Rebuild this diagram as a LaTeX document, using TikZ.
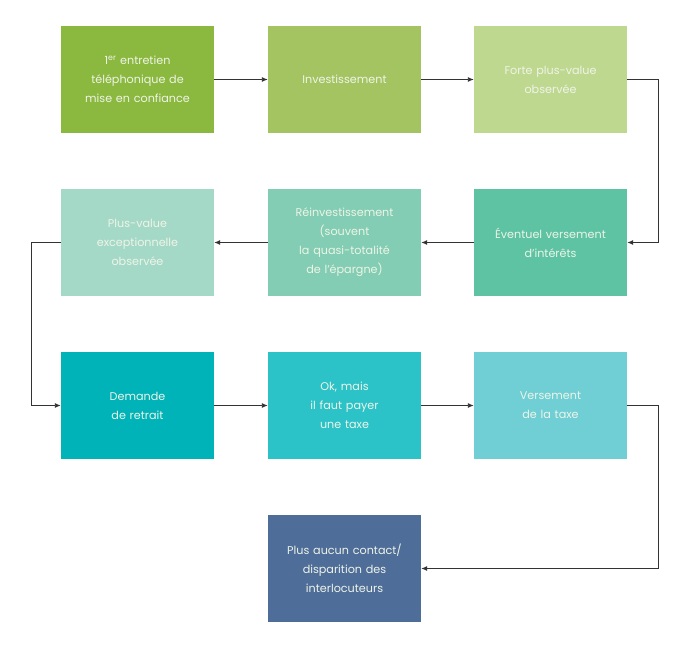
\documentclass[tikz,border=0pt]{standalone}
\usepackage{fontspec}
\setmainfont{Poppins}
\usetikzlibrary{arrows.meta}
\definecolor{cA}{HTML}{8BB83F}
\definecolor{cB}{HTML}{A4C462}
\definecolor{cC}{HTML}{BFD88F}
\definecolor{cD}{HTML}{5DC3A3}
\definecolor{cE}{HTML}{82CDB3}
\definecolor{cF}{HTML}{A5D9C7}
\definecolor{cG}{HTML}{00B3B8}
\definecolor{cH}{HTML}{2CC3C8}
\definecolor{cI}{HTML}{6FCFD5}
\definecolor{cJ}{HTML}{4F6D99}
\definecolor{txt}{HTML}{EEF4E8}
\definecolor{lin}{HTML}{333333}
\tikzset{
  box/.style={rectangle, minimum width=153pt, minimum height=107pt, inner sep=0pt,
    text width=146pt, align=center, text=txt, font=\fontsize{11.2}{19}\selectfont},
  conn/.style={draw=lin, line width=0.9pt, -{Latex[length=6pt,width=5pt]}}
}
\begin{document}
\begin{tikzpicture}[x=1pt,y=-1pt]
\useasboundingbox (0,0) rectangle (692,653);
\node[box, fill=cA] (b1) at (137.5,79.5) {1\textsuperscript{er} entretien\\téléphonique de\\mise en confiance};
\node[box, fill=cB] (b2) at (344.5,79.5) {Investissement};
\node[box, fill=cC] (b3) at (550.5,79.5) {Forte plus-value\\observée};
\node[box, fill=cD] (b4) at (550.5,242.5) {Éventuel versement\\d’intérêts};
\node[box, fill=cE] (b5) at (344.5,242.5) {Réinvestissement\\(souvent\\la quasi-totalité\\de l’épargne)};
\node[box, fill=cF] (b6) at (137.5,242.5) {Plus-value\\exceptionnelle\\observée};
\node[box, fill=cG] (b7) at (137.5,405.5) {Demande\\de retrait};
\node[box, fill=cH] (b8) at (344.5,405.5) {Ok, mais\\il faut payer\\une taxe};
\node[box, fill=cI] (b9) at (550.5,405.5) {Versement\\de la taxe};
\node[box, fill=cJ] (b10) at (344.5,568.5) {Plus aucun contact/\\disparition des\\interlocuteurs};
\coordinate (r1) at (658,79.5);
\coordinate (r2) at (658,242.5);
\coordinate (l1) at (31,242.5);
\coordinate (l2) at (31,405.5);
\coordinate (r3) at (658,405.5);
\coordinate (r4) at (658,568.5);
\draw[conn] (b1.east) -- (b2.west);
\draw[conn] (b2.east) -- (b3.west);
\draw[conn] (b3.east) -- (r1) -- (r2) -- (b4.east);
\draw[conn] (b4.west) -- (b5.east);
\draw[conn] (b5.west) -- (b6.east);
\draw[conn] (b6.west) -- (l1) -- (l2) -- (b7.west);
\draw[conn] (b7.east) -- (b8.west);
\draw[conn] (b8.east) -- (b9.west);
\draw[conn] (b9.east) -- (r3) -- (r4) -- (b10.east);
\end{tikzpicture}
\end{document}
